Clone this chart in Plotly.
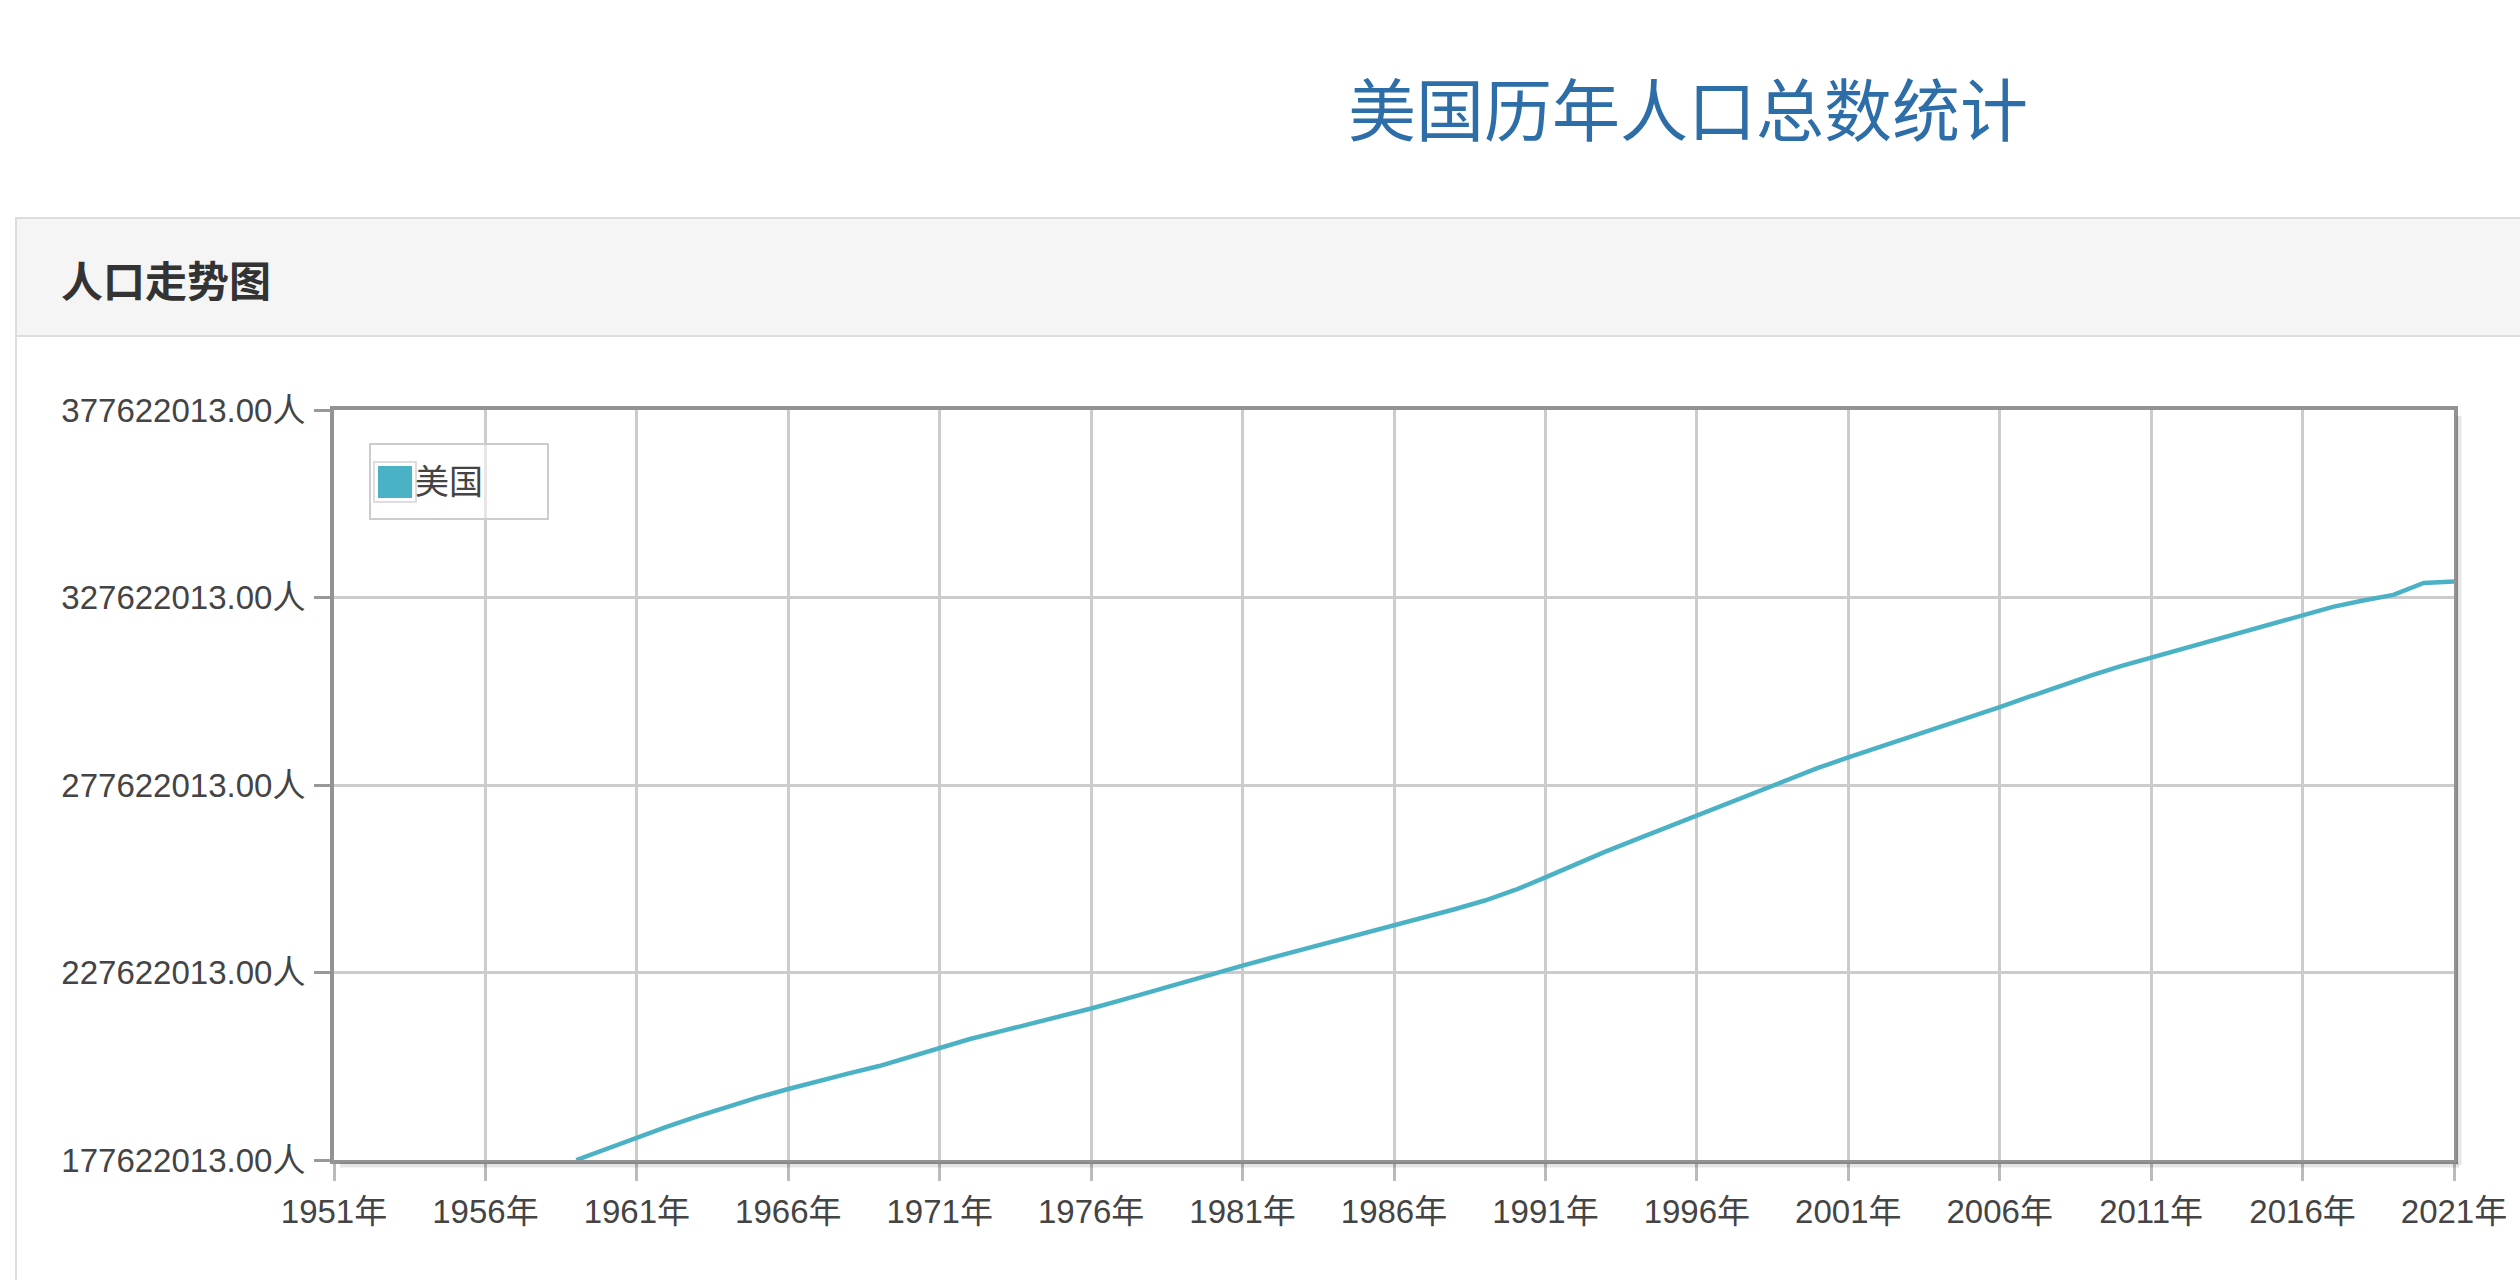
import plotly.graph_objects as go

# ---------------- data ----------------
page_title = "美国历年人口总数统计"
panel_title = "人口走势图"
country = "美国"

years = list(range(1959, 2022))
population = [
    177622013, 180671000, 183691000, 186538000, 189242000, 191889000,
    194303000, 196560000, 198712000, 200706000, 202677000, 205052000,
    207661000, 209896000, 211909000, 213854000, 215973000, 218035000,
    220239000, 222585000, 225055000, 227225000, 229466000, 231664000,
    233792000, 235825000, 237924000, 240133000, 242289000, 244499000,
    246819000, 249623000, 252981000, 256514000, 259919000, 263126000,
    266278000, 269394000, 272657000, 275854000, 279040000, 282162411,
    284968955, 287625193, 290107933, 292805298, 295516599, 298379912,
    301231207, 304093966, 306771529, 309327143, 311583481, 313877662,
    316059947, 318386329, 320738994, 323071755, 325122128, 326838199,
    328329953, 331501080, 331893745,
]

y_min = 177622013
y_max = 377622013
y_step = 50000000
x_first = 1951
x_last = 2021
x_step = 5

# ---------------- layout geometry (pixels) ----------------
W, H = 2520, 1280
L, R, T, B = 334, 2454, 410, 1160
PW, PH = R - L, B - T


def px(x):
    return (x - L) / PW


def py(y):
    return (B - y) / PH


LINE_COLOR = "#4bb2c5"
TICK_FONT = dict(family="Liberation Sans, Noto Sans CJK SC", size=33, color="#444444")

fig = go.Figure()

fig.add_trace(go.Scatter(
    x=years, y=population, mode="lines", name=country,
    line=dict(color=LINE_COLOR, width=4.5), showlegend=False,
    hoverinfo="x+y",
))
# legend entry
fig.add_trace(go.Scatter(
    x=[None], y=[None], mode="markers", name=country,
    marker=dict(symbol="square", size=16, color=LINE_COLOR, line=dict(width=0)),
    showlegend=True,
))

shapes = [
    # panel body
    dict(type="rect", xref="paper", yref="paper", layer="below",
         x0=px(16), x1=px(2560), y0=py(218), y1=py(1300),
         fillcolor="white", line=dict(color="#dddddd", width=2)),
    # panel header
    dict(type="rect", xref="paper", yref="paper", layer="below",
         x0=px(16), x1=px(2560), y0=py(218), y1=py(336),
         fillcolor="#f5f5f5", line=dict(color="#dddddd", width=2)),
    # plot shadow (right & bottom)
    dict(type="line", xref="paper", yref="paper", layer="above",
         x0=px(R + 5), x1=px(R + 5), y0=py(T + 6), y1=py(B + 5),
         line=dict(color="rgba(0,0,0,0.10)", width=5)),
    dict(type="line", xref="paper", yref="paper", layer="above",
         x0=px(L + 6), x1=px(R + 5), y0=py(B + 5), y1=py(B + 5),
         line=dict(color="rgba(0,0,0,0.10)", width=5)),
    # legend box
    dict(type="rect", xref="paper", yref="paper", layer="above",
         x0=px(370), x1=px(548), y0=py(444), y1=py(519),
         fillcolor="rgba(255,255,255,0.5)", line=dict(color="#cccccc", width=2)),
    # legend swatch (outer frame + colour)
    dict(type="rect", xref="paper", yref="paper", layer="above",
         x0=px(374), x1=px(416), y0=py(462), y1=py(502),
         fillcolor="white", line=dict(color="#dddddd", width=2)),
    dict(type="rect", xref="paper", yref="paper", layer="above",
         x0=px(378), x1=px(412), y0=py(466), y1=py(498),
         fillcolor=LINE_COLOR, line=dict(width=0)),
]

annotations = [
    dict(text=page_title, xref="paper", yref="paper", x=px(1688), y=py(106),
         xanchor="center", yanchor="middle", showarrow=False,
         font=dict(family="Noto Sans CJK SC", size=68, color="#2d6ea8")),
    dict(text="<b>" + panel_title + "</b>", xref="paper", yref="paper",
         x=px(59), y=py(278), xanchor="left", yanchor="middle", showarrow=False,
         font=dict(family="Noto Sans CJK SC", size=42, color="#333333")),
]

fig.update_layout(
    width=W, height=H, autosize=False,
    margin=dict(l=L, r=W - R, t=T, b=H - B, pad=0),
    paper_bgcolor="white", plot_bgcolor="#fffdf6",
    shapes=shapes, annotations=annotations,
    showlegend=True,
    legend=dict(x=px(375), y=py(452), xanchor="left", yanchor="top",
                bgcolor="rgba(0,0,0,0)", borderwidth=0,
                font=dict(family="Noto Sans CJK SC", size=34, color="#444444")),
    font=TICK_FONT,
)

fig.update_xaxes(
    range=[x_first, x_last], tick0=x_first, dtick=x_step, tickmode="linear",
    ticksuffix="年", tickfont=TICK_FONT,
    showgrid=True, gridcolor="#cccccc", gridwidth=2.5, zeroline=False,
    showline=True, mirror=True, linecolor="#939393", linewidth=4,
    ticks="outside", ticklen=17, tickwidth=3, tickcolor="#bbbbbb",
    ticklabelstandoff=2,
)
fig.update_yaxes(
    range=[y_min, y_max], tick0=y_min, dtick=y_step, tickmode="linear",
    tickformat=".2f", ticksuffix="人", tickfont=TICK_FONT,
    showgrid=True, gridcolor="#cccccc", gridwidth=2.5, zeroline=False,
    showline=True, mirror=True, linecolor="#939393", linewidth=4,
    ticks="outside", ticklen=16, tickwidth=3, tickcolor="#999999",
    ticklabelstandoff=2,
)

fig.write_html("out.html")
